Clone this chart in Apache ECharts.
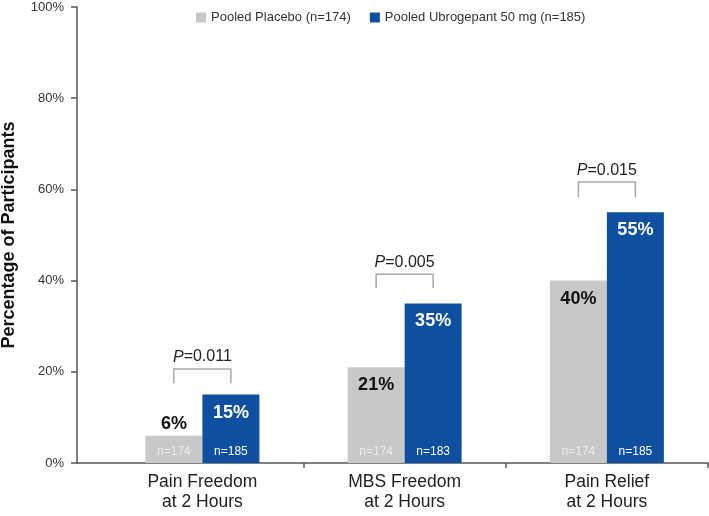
<!DOCTYPE html>
<html>
<head>
<meta charset="utf-8">
<script src="https://cdn.jsdelivr.net/npm/echarts@6/dist/echarts.min.js"></script>
<style>html,body{margin:0;padding:0;background:#fff}#c{width:709px;height:516px}</style>
</head>
<body>
<div id="c"></div>
<script>
const categories = ['Pain Freedom\nat 2 Hours', 'MBS Freedom\nat 2 Hours', 'Pain Relief\nat 2 Hours'];
const placebo = [6, 21, 40];
const ubrogepant = [15, 35, 55];
const nPlacebo = [174, 174, 174];
const nUbrogepant = [185, 183, 185];
const pValues = ['0.011', '0.005', '0.015'];
const bracketTop = [20.6, 41.4, 61.6];
const bracketBottom = [17.5, 38.4, 58.3];
const yTicks = [0, 20, 40, 60, 80, 100];

const FONT = 'Liberation Sans, Arial, Helvetica, sans-serif';
const GRAY = '#c8c8c8';
const BLUE = '#0e4f9f';
const BAR_W = 57;

const chart = echarts.init(document.getElementById('c'), null, {renderer: 'canvas'});

function pctLabel(vals, bigColor) {
  return vals.map((v, i) => {
    const small = v < 10;
    return {
      value: [i, v],
      label: {
        position: small ? 'top' : 'insideTop',
        distance: small ? 3 : 9,
        color: small ? '#111' : bigColor
      }
    };
  });
}

const option = {
  animation: false,
  textStyle: {fontFamily: FONT},
  legend: {
    left: 191, top: 6,
    icon: 'rect', itemWidth: 10, itemHeight: 10, itemGap: 19,
    textStyle: {fontSize: 13, color: '#333', fontFamily: FONT},
    data: ['Pooled Placebo (n=174)', 'Pooled Ubrogepant 50 mg (n=185)']
  },
  grid: {left: 77, right: 1, top: 7, bottom: 53, containLabel: false, outerBoundsMode: 'none'},
  xAxis: {
    type: 'value',
    min: -0.62, max: 2.5,
    splitLine: {show: false},
    axisLine: {show: true, onZero: false, lineStyle: {color: '#555', width: 1.5}},
    axisTick: {show: true, length: 5, customValues: [0.5, 1.5, 2.5], lineStyle: {color: '#555', width: 1.5}},
    axisLabel: {
      customValues: [0, 1, 2],
      formatter: v => categories[Math.round(v)],
      fontSize: 17.5, color: '#222', lineHeight: 20, margin: 9, fontFamily: FONT
    }
  },
  yAxis: {
    type: 'value',
    min: 0, max: 100, interval: 20,
    splitLine: {show: false},
    axisLine: {show: true, onZero: false, lineStyle: {color: '#555', width: 1.5}},
    axisTick: {show: true, length: 6, lineStyle: {color: '#555', width: 1.5}},
    axisLabel: {formatter: '{value}%', fontSize: 13, color: '#333', margin: 13, fontFamily: FONT},
    name: 'Percentage of Participants',
    nameLocation: 'middle', nameGap: 59,
    nameTextStyle: {fontSize: 18, fontWeight: 'bold', color: '#111', fontFamily: FONT}
  },
  series: [
    {
      name: 'placebo-n', type: 'bar', stack: 'p', barWidth: BAR_W, barGap: '0%',
      data: nPlacebo.map((n, i) => [i, 0]),
      itemStyle: {color: GRAY},
      label: {show: true, position: 'top', distance: 5, fontSize: 12, color: '#ececec',
        formatter: p => 'n=' + nPlacebo[p.dataIndex]}
    },
    {
      name: 'Pooled Placebo (n=174)', type: 'bar', stack: 'p', barWidth: BAR_W, barGap: '0%',
      data: pctLabel(placebo, '#111'),
      itemStyle: {color: GRAY},
      label: {show: true, fontSize: 18, fontWeight: 'bold', fontFamily: FONT,
        formatter: p => placebo[p.dataIndex] + '%'}
    },
    {
      name: 'ubro-n', type: 'bar', stack: 'u', barWidth: BAR_W, barGap: '0%',
      data: nUbrogepant.map((n, i) => [i, 0]),
      itemStyle: {color: BLUE},
      label: {show: true, position: 'top', distance: 5, fontSize: 12, color: '#ffffff',
        formatter: p => 'n=' + nUbrogepant[p.dataIndex]}
    },
    {
      name: 'Pooled Ubrogepant 50 mg (n=185)', type: 'bar', stack: 'u', barWidth: BAR_W, barGap: '0%',
      data: pctLabel(ubrogepant, '#ffffff'),
      itemStyle: {color: BLUE},
      label: {show: true, fontSize: 18, fontWeight: 'bold', fontFamily: FONT,
        formatter: p => ubrogepant[p.dataIndex] + '%'}
    },
    {
      name: 'brackets', type: 'custom', silent: true,
      data: pValues.map((p, i) => [i, bracketTop[i], bracketBottom[i]]),
      renderItem: function (params, api) {
        const i = api.value(0);
        const t = api.coord([i, api.value(1)]);
        const b = api.coord([i, api.value(2)]);
        const h = BAR_W / 2;
        return {
          type: 'group',
          children: [
            {type: 'polyline',
              shape: {points: [[t[0] - h, b[1]], [t[0] - h, t[1]], [t[0] + h, t[1]], [t[0] + h, b[1]]]},
              style: {stroke: '#a8a8a8', lineWidth: 1.5, fill: null}},
            {type: 'text', x: t[0], y: t[1] - 4,
              style: {
                text: '{i|P}{n|=' + pValues[params.dataIndex] + '}',
                align: 'center', verticalAlign: 'bottom',
                rich: {
                  i: {fontStyle: 'italic', fontSize: 16, fontFamily: FONT, fill: '#222'},
                  n: {fontSize: 16, fontFamily: FONT, fill: '#222'}
                }
              }}
          ]
        };
      }
    }
  ]
};
chart.setOption(option);
</script>
</body>
</html>
